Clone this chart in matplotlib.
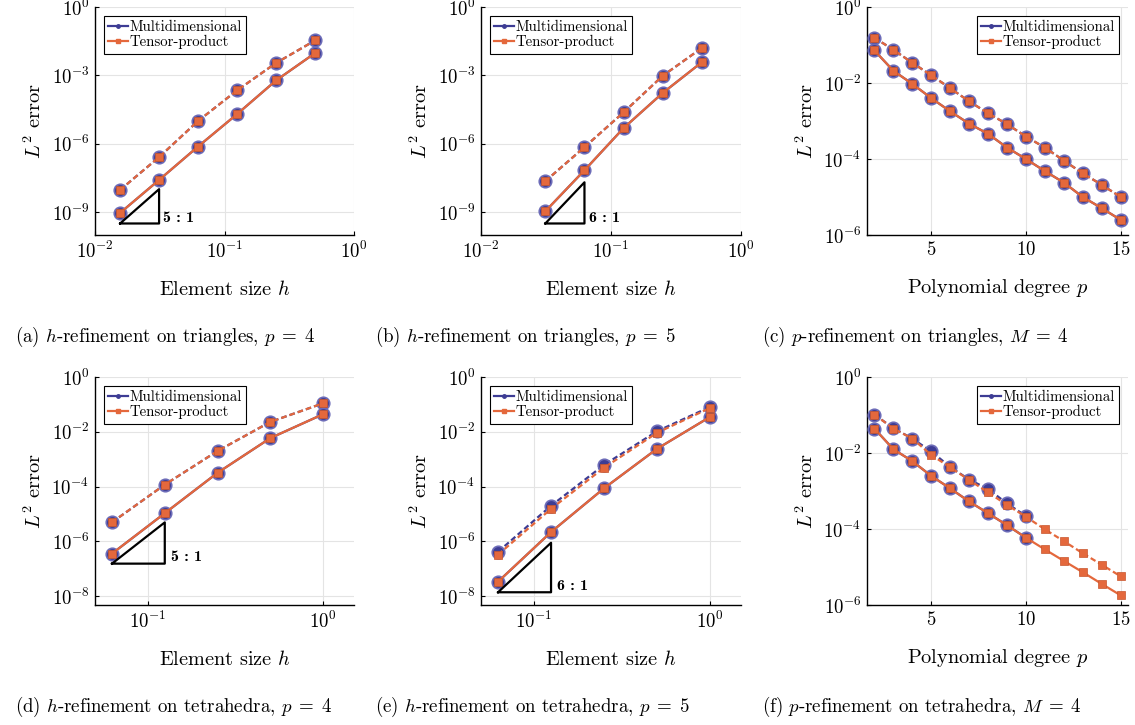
import numpy as np
import matplotlib
matplotlib.use("Agg")
import matplotlib.pyplot as plt
from matplotlib.lines import Line2D

plt.rcParams['font.family'] = 'serif'
plt.rcParams['font.serif'] = ['cmr10']
plt.rcParams['mathtext.fontset'] = 'cm'
plt.rcParams['axes.formatter.use_mathtext'] = True

# colours
MD_COLOR = '#3d3c94'
MD_EDGE = '#6d6cb8'
TP_COLOR = '#e4683c'

# ---- data ----
h_a = [1/64, 1/32, 1/16, 1/8, 1/4, 1/2]
a_solid = [9.3e-10, 2.6e-8, 7.6e-7, 2.0e-5, 6.0e-4, 9.5e-3]
a_dash = [9.5e-9, 2.6e-7, 1.0e-5, 2.2e-4, 3.5e-3, 3.4e-2]

h_b = [1/32, 1/16, 1/8, 1/4, 1/2]
b_solid = [1.1e-9, 6.9e-8, 4.9e-6, 1.7e-4, 3.8e-3]
b_dash = [2.3e-8, 7.1e-7, 2.4e-5, 9.6e-4, 1.6e-2]

p_c = list(range(2, 16))
c_solid = [7.2e-2, 2.1e-2, 9.5e-3, 4.0e-3, 1.8e-3, 8.5e-4, 4.6e-4, 2.0e-4,
           1.0e-4, 4.8e-5, 2.4e-5, 1.0e-5, 5.1e-6, 2.5e-6]
c_dash = [0.155, 7.5e-2, 3.4e-2, 1.6e-2, 7.3e-3, 3.3e-3, 1.6e-3, 8.3e-4,
          3.9e-4, 2.0e-4, 9.1e-5, 4.2e-5, 2.1e-5, 1.0e-5]

h_d = [1/16, 1/8, 1/4, 1/2, 1]
d_solid = [3.6e-7, 1.07e-5, 3.2e-4, 5.9e-3, 4.4e-2]
d_dash = [5.0e-6, 1.18e-4, 2.0e-3, 2.3e-2, 0.11]

h_e = [1/16, 1/8, 1/4, 1/2, 1]
e_md_solid = [3.4e-8, 2.2e-6, 8.7e-5, 2.4e-3, 3.5e-2]
e_tp_solid = [3.4e-8, 2.2e-6, 8.7e-5, 2.4e-3, 3.5e-2]
e_md_dash = [4.2e-7, 2.0e-5, 6.2e-4, 1.05e-2, 8.1e-2]
e_tp_dash = [3.3e-7, 1.55e-5, 4.9e-4, 9.2e-3, 7.4e-2]

p_f_md = list(range(2, 11))
p_f_tp = list(range(2, 16))
f_md_solid = [4.4e-2, 1.26e-2, 6.1e-3, 2.5e-3, 1.17e-3, 5.3e-4, 2.6e-4, 1.26e-4, 5.9e-5]
f_tp_solid = [4.4e-2, 1.26e-2, 6.1e-3, 2.5e-3, 1.17e-3, 5.3e-4, 2.6e-4, 1.26e-4, 5.9e-5,
              2.9e-5, 1.45e-5, 7.3e-6, 3.6e-6, 1.8e-6]
f_md_dash = [0.103, 4.5e-2, 2.4e-2, 1.1e-2, 4.3e-3, 2.0e-3, 1.13e-3, 4.7e-4, 2.2e-4]
f_tp_dash = [0.103, 4.4e-2, 2.4e-2, 8.9e-3, 4.2e-3, 1.95e-3, 9.2e-4, 4.3e-4, 2.1e-4,
             9.8e-5, 4.8e-5, 2.3e-5, 1.15e-5, 5.7e-6]

captions = [
    r"(a) $h$-refinement on triangles, $p\;=\;4$",
    r"(b) $h$-refinement on triangles, $p\;=\;5$",
    r"(c) $p$-refinement on triangles, $M\;=\;4$",
    r"(d) $h$-refinement on tetrahedra, $p\;=\;4$",
    r"(e) $h$-refinement on tetrahedra, $p\;=\;5$",
    r"(f) $p$-refinement on tetrahedra, $M\;=\;4$",
]

W, H = 1135, 725
fig = plt.figure(figsize=(W / 100, H / 100), dpi=100)


def make_ax(x0, x1, y0, y1):
    return fig.add_axes([x0 / W, 1 - y1 / H, (x1 - x0) / W, (y1 - y0) / H])


def style(ax):
    ax.spines['top'].set_visible(False)
    ax.spines['right'].set_visible(False)
    for s in ['left', 'bottom']:
        ax.spines[s].set_linewidth(1.0)
    ax.grid(True, color='#e4e4e4', linewidth=0.8)
    ax.set_axisbelow(True)
    ax.tick_params(direction='in', length=3, width=0.8, labelsize=13.5, pad=4)
    ax.minorticks_off()


def series(ax, x_md, y_md, x_tp, y_tp, ls):
    ax.plot(x_md, y_md, color=MD_COLOR, lw=1.6, ls=ls, marker='o', markersize=9,
            markerfacecolor=MD_COLOR, markeredgecolor=MD_EDGE, markeredgewidth=1.2,
            zorder=3)
    ax.plot(x_tp, y_tp, color=TP_COLOR, lw=1.6, ls=ls, marker='s', markersize=5.2,
            markerfacecolor=TP_COLOR, markeredgecolor='#c8552c', markeredgewidth=0.5,
            zorder=4)


def triangle(ax, h1, h2, base, order):
    top = base * (h2 / h1) ** order
    ax.plot([h1, h2, h2, h1], [base, base, top, base], color='black', lw=1.6, zorder=5)
    ax.text(h2 * 1.08, base * 1.7, "%d : 1" % order, fontsize=11.5,
            family='cmb10', ha='left', va='center')


def legend(ax, loc):
    handles = [
        Line2D([], [], color=MD_COLOR, lw=1.6, marker='o', markersize=2.5),
        Line2D([], [], color=TP_COLOR, lw=1.6, marker='s', markersize=3.5),
    ]
    leg = ax.legend(handles, ['Multidimensional', 'Tensor-product'], loc=loc,
                    fontsize=10.7, fancybox=False, framealpha=1, edgecolor='black',
                    handlelength=1.3, handletextpad=0.1, borderpad=0.3,
                    labelspacing=0.05, borderaxespad=0.6)
    leg.get_frame().set_linewidth(0.8)
    leg.set_zorder(10)


ls_dash = (0, (2.5, 1.4))
cols = [(95, 354), (481, 741), (867, 1128)]
rows = [(7, 235), (377, 605)]

axes = []
for r in rows:
    for c in cols:
        axes.append(make_ax(c[0], c[1], r[0], r[1]))

# (a)
ax = axes[0]
series(ax, h_a, a_dash, h_a, a_dash, ls_dash)
series(ax, h_a, a_solid, h_a, a_solid, '-')
triangle(ax, 1/64, 1/32, 3.2e-10, 5)
# (b)
ax = axes[1]
series(ax, h_b, b_dash, h_b, b_dash, ls_dash)
series(ax, h_b, b_solid, h_b, b_solid, '-')
triangle(ax, 1/32, 1/16, 3.2e-10, 6)
for ax in axes[:2]:
    ax.set_xscale('log')
    ax.set_yscale('log')
    ax.set_xlim(1e-2, 1)
    ax.set_ylim(1e-10, 1)
    ax.set_xticks([1e-2, 1e-1, 1])
    ax.set_yticks([1e-9, 1e-6, 1e-3, 1])

# (c)
ax = axes[2]
series(ax, p_c, c_dash, p_c, c_dash, ls_dash)
series(ax, p_c, c_solid, p_c, c_solid, '-')

# (d)
ax = axes[3]
series(ax, h_d, d_dash, h_d, d_dash, ls_dash)
series(ax, h_d, d_solid, h_d, d_solid, '-')
triangle(ax, 1/16, 1/8, 1.55e-7, 5)
# (e)
ax = axes[4]
series(ax, h_e, e_md_dash, h_e, e_tp_dash, ls_dash)
series(ax, h_e, e_md_solid, h_e, e_tp_solid, '-')
triangle(ax, 1/16, 1/8, 1.4e-8, 6)
for ax in axes[3:5]:
    ax.set_xscale('log')
    ax.set_yscale('log')
    ax.set_xlim(0.05, 1.5)
    ax.set_ylim(4.8e-9, 1)
    ax.set_xticks([1e-1, 1])
    ax.set_yticks([1e-8, 1e-6, 1e-4, 1e-2, 1])

# (f)
ax = axes[5]
series(ax, p_f_md, f_md_dash, p_f_tp, f_tp_dash, ls_dash)
series(ax, p_f_md, f_md_solid, p_f_tp, f_tp_solid, '-')

for ax in [axes[2], axes[5]]:
    ax.set_yscale('log')
    ax.set_xlim(1.61, 15.39)
    ax.set_ylim(1e-6, 1)
    ax.set_xticks([5, 10, 15])
    ax.set_yticks([1e-6, 1e-4, 1e-2, 1])

for i, ax in enumerate(axes):
    style(ax)
    ax.set_ylabel(r"$L^2$ error", fontsize=14.6, labelpad=5)
    if i in (2, 5):
        ax.set_xlabel(r"Polynomial degree $p$", fontsize=14.6, labelpad=13)
        legend(ax, 'upper right')
    else:
        ax.set_xlabel(r"Element size $h$", fontsize=14.6, labelpad=13)
        legend(ax, 'upper left')

cap_x = [15, 375, 762]
cap_y = [337, 707]
for i, cap in enumerate(captions):
    fig.text(cap_x[i % 3] / W, 1 - cap_y[i // 3] / H, cap, fontsize=13.6,
             ha='left', va='center')

fig.savefig("out.png", dpi=100)
